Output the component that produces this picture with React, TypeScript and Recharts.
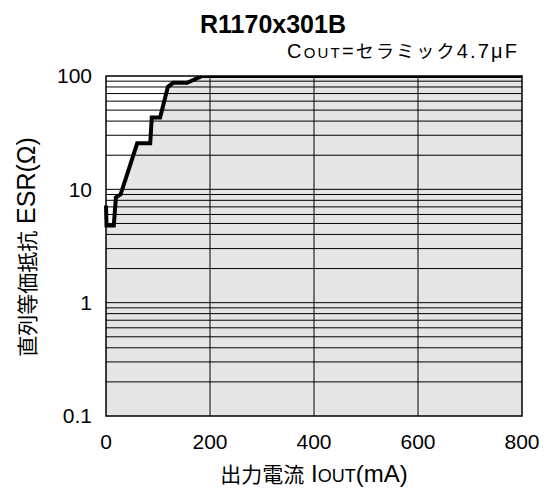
import { ComposedChart, Area, XAxis, YAxis, ReferenceLine, ReferenceArea } from "recharts"

// 出力電流 IOUT (mA) vs 直列等価抵抗 ESR (Ω), stability boundary
const currentMA = [0, 1, 15, 19, 28, 60, 85, 88, 104, 119, 129, 156, 185, 800]
const esrOhm = [7.2, 4.8, 4.8, 8.5, 9, 25.5, 25.5, 43, 43, 80, 87, 87, 100, 100]

const xTicks = [0, 200, 400, 600, 800]
const yTicks = [0.1, 1, 10, 100]
const xGrid = [200, 400, 600]
const yGrid = [
  0.2, 0.3, 0.4, 0.5, 0.6, 0.7, 0.8, 0.9, 1,
  2, 3, 4, 5, 6, 7, 8, 9, 10,
  20, 30, 40, 50, 60, 70, 80, 90,
]

const data = currentMA.map((c, i) => ({ current: c, esr: esrOhm[i] }))

const FONT = "'Liberation Sans', Arial, 'Noto Sans CJK JP', sans-serif"

export default function App() {
  return (
    <div style={{ position: "absolute", left: 0, top: 0, width: 549, height: 489, background: "#fff", fontFamily: FONT }}>
      <ComposedChart
        width={549}
        height={489}
        data={data}
        margin={{ top: 76, right: 27, bottom: 0, left: 0 }}
      >
        <XAxis
          type="number"
          dataKey="current"
          domain={[0, 800]}
          ticks={xTicks}
          height={73}
          axisLine={false}
          tickLine={false}
          tickSize={6}
          tickMargin={12}
          tick={{ fill: "#000", fontSize: 21, fontFamily: FONT }}
        />
        <YAxis
          type="number"
          scale="log"
          domain={[0.1, 100]}
          ticks={yTicks}
          allowDataOverflow
          width={106}
          axisLine={false}
          tickLine={false}
          tickSize={6}
          tickMargin={8}
          tick={{ fill: "#000", fontSize: 21, fontFamily: FONT }}
        />
        {/* gray stable region under the boundary */}
        <Area
          type="linear"
          dataKey="esr"
          baseValue={0.1}
          fill="#000"
          fillOpacity={0.1}
          stroke="none"
          dot={false}
          activeDot={false}
          isAnimationActive={false}
        />
        {yGrid.map((v) => (
          <ReferenceLine key={"y" + v} y={v} stroke="#000" strokeWidth={1} />
        ))}
        {xGrid.map((v) => (
          <ReferenceLine key={"x" + v} x={v} stroke="#000" strokeWidth={1} />
        ))}
        <ReferenceArea x1={0} x2={800} y1={0.1} y2={100} fill="none" stroke="#000" strokeWidth={1.5} />
        {/* boundary line drawn on top of the grid */}
        <Area
          type="linear"
          dataKey="esr"
          baseValue={0.1}
          fill="none"
          stroke="#000"
          strokeWidth={4}
          strokeLinejoin="miter"
          dot={false}
          activeDot={false}
          isAnimationActive={false}
        />
      </ComposedChart>
      <svg width={549} height={489} style={{ position: "absolute", left: 0, top: 0, pointerEvents: "none" }}>
        <text x={273} y={33} textAnchor="middle" fontSize={25} fontWeight="bold" fill="#000">
          R1170x301B
        </text>
        <text x={287} y={58} fontSize={20} fill="#000" textLength={230} lengthAdjust="spacing">
          C<tspan fontSize={15}>OUT</tspan>=<tspan fontSize={18}>セラミック</tspan>4.7μF
        </text>
        <text x={314} y={482} textAnchor="middle" fontSize={21} fill="#000">
          出力電流<tspan fontSize={24}> I</tspan>
          <tspan fontSize={18}>OUT</tspan>
          <tspan fontSize={24}>(mA)</tspan>
        </text>
        <text x={35} y={247} textAnchor="middle" fontSize={21} fill="#000" transform="rotate(-90 35 247)">
          直列等価抵抗<tspan fontSize={25}> ESR(Ω)</tspan>
        </text>
      </svg>
    </div>
  )
}
